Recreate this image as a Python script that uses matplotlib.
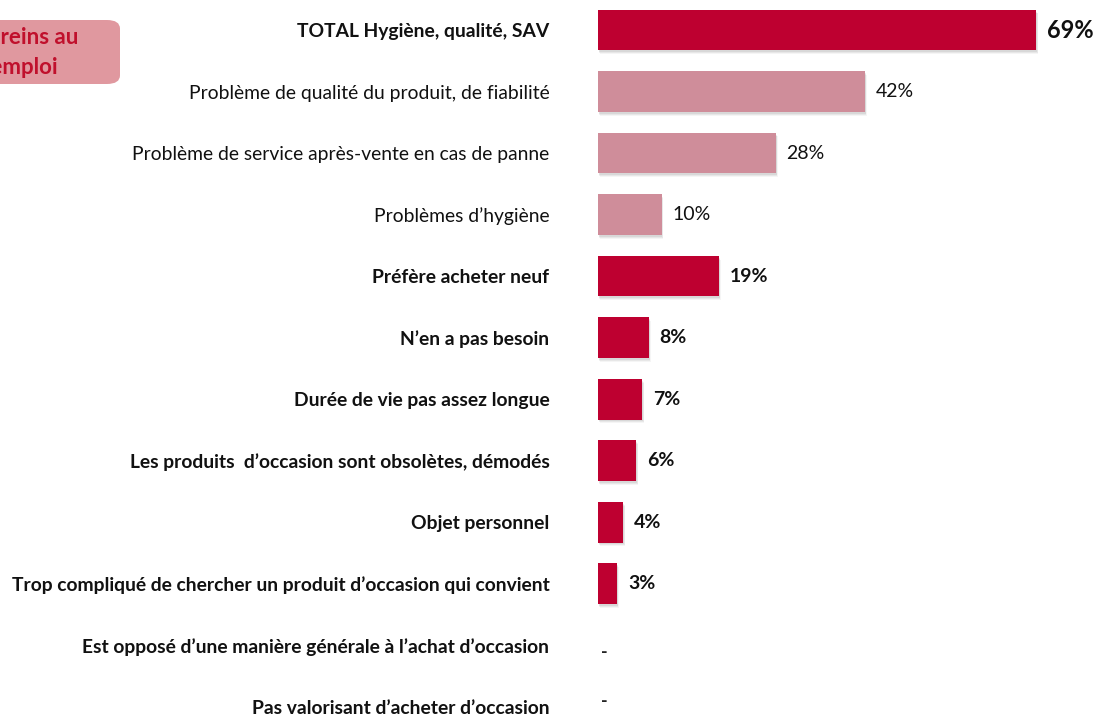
import matplotlib.pyplot as plt
from matplotlib.patches import FancyBboxPatch, Rectangle

categories = [
    "TOTAL Hygiène, qualité, SAV",
    "Problème de qualité du produit, de fiabilité",
    "Problème de service après-vente en cas de panne",
    "Problèmes d\u2019hygiène",
    "Préfère acheter neuf",
    "N\u2019en a pas besoin",
    "Durée de vie pas assez longue",
    "Les produits  d\u2019occasion sont obsolètes, démodés",
    "Objet personnel",
    "Trop compliqué de chercher un produit d\u2019occasion qui convient",
    "Est opposé d\u2019une manière générale à l\u2019achat d\u2019occasion",
    "Pas valorisant d\u2019acheter d\u2019occasion",
]
values = [69, 42, 28, 10, 19, 8, 7, 6, 4, 3, None, None]
is_detail = [False, True, True, True, False, False, False, False, False, False, False, False]

DARK = "#be0030"
LIGHT = "#cf8d9a"

plt.rcParams['font.family'] = ['Lato', 'DejaVu Sans']

fig = plt.figure(figsize=(10.94, 7.16), dpi=100)
ax = fig.add_axes([598 / 1094, 0, 1 - 598 / 1094, 1])

bar_h = 0.66
ypos = list(range(len(categories)))
for y, v, light in zip(ypos, values, is_detail):
    if v is None:
        # no answer: a small dash instead of a bar
        ax.text(0.5, y + (0.12 if y == 10 else -0.08), "-", ha="left", va="center",
                fontsize=13, fontweight="bold", color="#222222")
        continue
    # soft drop shadow under each bar
    for k, a in enumerate([0.10, 0.08, 0.06]):
        off = 0.25 + k * 0.12
        ax.add_patch(Rectangle((off * 0.6, y - bar_h / 2 + off * 0.12), v, bar_h,
                               color="#555555", alpha=a, lw=0, zorder=1))
    ax.barh(y, v, height=bar_h, color=LIGHT if light else DARK, zorder=2)
    if y == 0:
        ax.text(v + 1.7, y, f"{v}%", ha="left", va="center", fontsize=17,
                fontweight="bold", color="#111111")
    else:
        ax.text(v + 1.7, y, f"{v}%", ha="left", va="center", fontsize=14,
                fontweight="normal" if light else "bold", color="#111111")

ax.set_xlim(0, 78.1)
ax.set_ylim(11.15, -0.49)
ax.set_yticks(ypos)
ax.set_yticklabels(categories, fontsize=13.9)
for lbl, light in zip(ax.get_yticklabels(), is_detail):
    lbl.set_fontweight("normal" if light else "bold")
    lbl.set_color("#111111")
ax.tick_params(axis="y", length=0, pad=35)
ax.set_xticks([])
for s in ax.spines.values():
    s.set_visible(False)

# title box, partly cut off at the left edge
box = FancyBboxPatch((-60 / 1094, 1 - 84 / 716), 180 / 1094, 64 / 716,
                     boxstyle="round,pad=0,rounding_size=0.012",
                     transform=fig.transFigure, facecolor="#e0989f",
                     edgecolor="none", zorder=0)
fig.patches.append(box)
fig.text(78 / 1094, 1 - 37 / 716, "Freins au", ha="right", va="center",
         fontsize=16, fontweight="bold", color="#c0102c")
fig.text(58 / 1094, 1 - 67 / 716, "réemploi", ha="right", va="center",
         fontsize=16, fontweight="bold", color="#c0102c")

fig.savefig("out.png", dpi=100)
